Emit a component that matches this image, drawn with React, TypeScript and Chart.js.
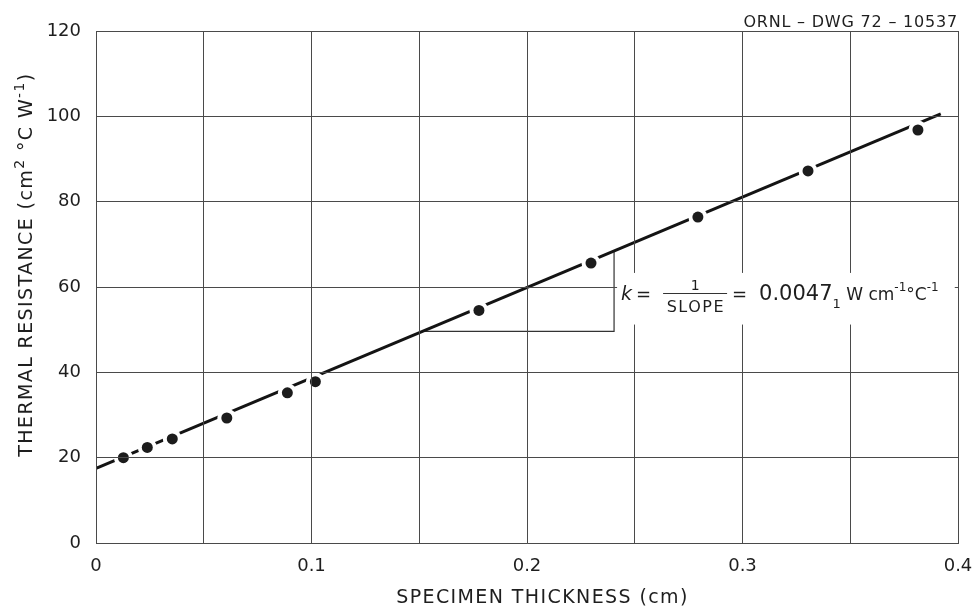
import React, { useEffect, useRef } from "react";
import { Chart, registerables } from "chart.js";

Chart.register(...registerables);

// ---------------- data ----------------
const specimenThickness = [0.0127, 0.0238, 0.0354, 0.0607, 0.0888, 0.1018, 0.1777, 0.2297, 0.2793, 0.3304, 0.3814];
const thermalResistance = [20.0, 22.4, 24.4, 29.3, 35.2, 37.8, 54.5, 65.6, 76.4, 87.2, 96.8];

const fitLineThickness = [0, 0.392];
const fitLineResistance = [17.5, 100.6];

const slopeTriangleThickness = [0.1514, 0.2404, 0.2404];
const slopeTriangleResistance = [49.6, 49.6, 68.5];

const xTickLabels = ["0", "", "0.1", "", "0.2", "", "0.3", "", "0.4"];
const yTickLabels = ["0", "20", "40", "60", "80", "100", "120"];

const xAxisTitle = "SPECIMEN THICKNESS (cm)";
const drawingNumber = "ORNL – DWG 72 – 10537";
const kValue = "0.0047";

const FONT = '"DejaVu Sans", sans-serif';
const INK = "#1e1e1e";
const GRID = "#4a4a4a";

type Part = { t: string; size: number; rise?: number; ls?: number; italic?: boolean };

function drawParts(ctx: CanvasRenderingContext2D, x0: number, y0: number, parts: Part[]) {
  let x = x0;
  ctx.textAlign = "left";
  ctx.textBaseline = "alphabetic";
  for (const p of parts) {
    ctx.font = `${p.italic ? "italic " : ""}${p.size}px ${FONT}`;
    (ctx as any).letterSpacing = `${p.ls ?? 0}px`;
    ctx.fillText(p.t, x, y0 - (p.rise ?? 0));
    x += ctx.measureText(p.t).width;
  }
  (ctx as any).letterSpacing = "0px";
  return x;
}

const textPlugin = {
  id: "chartText",
  beforeDraw(chart: any) {
    const { ctx, width, height } = chart;
    ctx.save();
    ctx.fillStyle = "#ffffff";
    ctx.fillRect(0, 0, width, height);
    ctx.restore();
  },
  afterDraw(chart: any) {
    const { ctx, chartArea } = chart;
    const xs = chart.scales.x;
    const ys = chart.scales.y;
    ctx.save();

    // drawing number (top right)
    ctx.fillStyle = INK;
    ctx.font = `16px ${FONT}`;
    (ctx as any).letterSpacing = "0.8px";
    ctx.textAlign = "right";
    ctx.textBaseline = "alphabetic";
    ctx.fillText(drawingNumber, chartArea.right, chartArea.top - 4.5);
    (ctx as any).letterSpacing = "0px";

    // x axis title
    ctx.font = `19px ${FONT}`;
    (ctx as any).letterSpacing = "1.4px";
    ctx.textAlign = "center";
    ctx.fillText(xAxisTitle, (chartArea.left + chartArea.right) / 2 + 15.5, chartArea.bottom + 60);
    (ctx as any).letterSpacing = "0px";

    // y axis title (rotated)
    ctx.save();
    ctx.translate(32, 456.7);
    ctx.rotate(-Math.PI / 2);
    drawParts(ctx, 0, 0, [
      { t: "THERMAL RESISTANCE (cm", size: 19, ls: 1.4 },
      { t: "2", size: 14, rise: 8, ls: 1.4 },
      { t: " °C W", size: 19, ls: 1.4 },
      { t: "-1", size: 14, rise: 8, ls: 1.4 },
      { t: ")", size: 19, ls: 1.4 },
    ]);
    ctx.restore();

    // annotation background box (hides grid behind the text)
    const bx0 = xs.getPixelForValue(0.2418);
    const bx1 = xs.getPixelForValue(0.3985);
    const by0 = ys.getPixelForValue(63.3);
    const by1 = ys.getPixelForValue(51.2);
    ctx.fillStyle = "#ffffff";
    ctx.fillRect(bx0, by0, bx1 - bx0, by1 - by0);

    // annotation text
    const ax = xs.getPixelForValue(0.2425);
    const ay = ys.getPixelForValue(60);
    ctx.fillStyle = INK;
    ctx.textBaseline = "alphabetic";
    ctx.textAlign = "left";
    ctx.font = `italic 19px ${FONT}`;
    ctx.fillText("k", ax + 2.4, ay + 13);
    ctx.font = `18px ${FONT}`;
    ctx.fillText("=", ax + 17.5, ay + 13);

    // fraction 1 / SLOPE
    ctx.textAlign = "center";
    ctx.font = `14px ${FONT}`;
    ctx.fillText("1", ax + 76.5, ay + 3);
    ctx.strokeStyle = "#333";
    ctx.lineWidth = 1;
    ctx.beginPath();
    ctx.moveTo(ax + 44.5, Math.round(ay + 5.5) + 0.5);
    ctx.lineTo(ax + 108.5, Math.round(ay + 5.5) + 0.5);
    ctx.stroke();
    ctx.font = `16px ${FONT}`;
    (ctx as any).letterSpacing = "1.5px";
    ctx.fillText("SLOPE", ax + 77.3, ay + 25);
    (ctx as any).letterSpacing = "0px";

    ctx.textAlign = "left";
    ctx.font = `18px ${FONT}`;
    ctx.fillText("=", ax + 113.5, ay + 13);
    drawParts(ctx, ax + 140.5, ay + 13, [
      { t: kValue, size: 21 },
      { t: "1", size: 13, rise: -8 },
      { t: " W cm", size: 17 },
      { t: "-1", size: 12, rise: 9 },
      { t: "°C", size: 17 },
      { t: "-1", size: 12, rise: 9 },
    ]);

    ctx.restore();
  },
};

function zeroScalePadding(s: any) {
  s.paddingLeft = 0;
  s.paddingRight = 0;
  s.paddingTop = 0;
  s.paddingBottom = 0;
}

export default function App() {
  const ref = useRef<HTMLCanvasElement>(null);

  useEffect(() => {
    const canvas = ref.current;
    if (!canvas) return;

    const measured = specimenThickness.map((x, i) => ({ x, y: thermalResistance[i] }));
    const fit = fitLineThickness.map((x, i) => ({ x, y: fitLineResistance[i] }));
    const tri = slopeTriangleThickness.map((x, i) => ({ x, y: slopeTriangleResistance[i] }));

    const tickFont = { family: FONT, size: 18 };

    const chart = new Chart(canvas, {
      type: "scatter",
      data: {
        datasets: [
          {
            label: "measured",
            data: measured,
            showLine: false,
            pointRadius: 5.5,
            pointBackgroundColor: "#1c1c1c",
            pointBorderColor: "#1c1c1c",
            pointBorderWidth: 0,
            order: 0,
          },
          {
            label: "halo",
            data: measured,
            showLine: false,
            pointRadius: 9.5,
            pointBackgroundColor: "#ffffff",
            pointBorderWidth: 0,
            order: 1,
          },
          {
            label: "fit",
            data: fit,
            showLine: true,
            borderColor: "#141414",
            borderWidth: 3,
            pointRadius: 0,
            order: 2,
          },
          {
            label: "slope",
            data: tri,
            showLine: true,
            borderColor: "#333333",
            borderWidth: 1.2,
            pointRadius: 0,
            order: 3,
          },
        ],
      },
      options: {
        animation: false,
        responsive: false,
        devicePixelRatio: 1,
        events: [],
        layout: { padding: { top: 31, right: 18, left: 0, bottom: 0 } },
        plugins: {
          legend: { display: false },
          tooltip: { enabled: false },
          title: { display: false },
        },
        scales: {
          x: {
            type: "linear",
            min: 0,
            max: 0.4,
            afterFit: (s: any) => {
              s.height = 67;
              zeroScalePadding(s);
            },
            grid: { color: GRID, lineWidth: 1, drawTicks: false, z: 1 },
            border: { display: true, color: GRID, width: 1, z: 1 },
            ticks: {
              stepSize: 0.05,
              autoSkip: false,
              maxRotation: 0,
              padding: 13,
              color: INK,
              font: tickFont,
              callback: (_v: any, i: number) => xTickLabels[i] ?? "",
            },
          },
          y: {
            type: "linear",
            min: 0,
            max: 120,
            afterFit: (s: any) => {
              s.width = 96;
              zeroScalePadding(s);
            },
            grid: { color: GRID, lineWidth: 1, drawTicks: false, z: 1 },
            border: { display: true, color: GRID, width: 1, z: 1 },
            ticks: {
              stepSize: 20,
              autoSkip: false,
              padding: 15,
              color: INK,
              font: tickFont,
              callback: (_v: any, i: number) => yTickLabels[i] ?? "",
            },
          },
        },
      },
      plugins: [textPlugin],
    } as any);

    return () => chart.destroy();
  }, []);

  return (
    <div style={{ position: "absolute", left: 0, top: 0, width: 976, height: 610, background: "#fff" }}>
      <canvas ref={ref} width={976} height={610} style={{ display: "block", width: 976, height: 610 }} />
    </div>
  );
}
